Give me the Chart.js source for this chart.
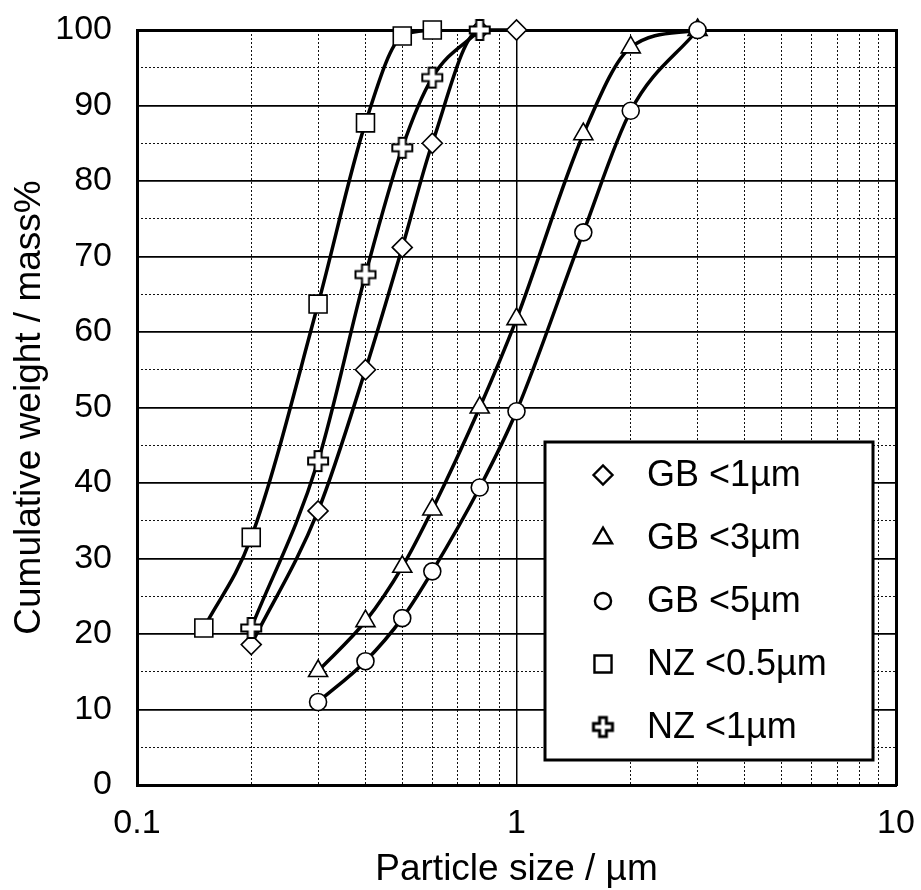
<!DOCTYPE html>
<html>
<head>
<meta charset="utf-8">
<script src="https://cdn.jsdelivr.net/npm/chart.js@4.4.1/dist/chart.umd.min.js"></script>
<style>
  body { margin: 0; background: #fff; }
  canvas { display: block; }
</style>
</head>
<body>
<canvas id="psd" width="921" height="890"></canvas>
<script>
// data (particle size in um, cumulative mass %)
const gb1Size  = [0.2, 0.3, 0.4, 0.5, 0.6, 0.8, 1.0];
const gb1Pct   = [18.6, 36.3, 55.0, 71.2, 85.0, 100, 100];

const gb3Size  = [0.3, 0.4, 0.5, 0.6, 0.8, 1.0, 1.5, 2.0, 3.0];
const gb3Pct   = [15.1, 21.7, 28.9, 36.5, 50.0, 61.7, 86.2, 97.7, 100];

const gb5Size  = [0.3, 0.4, 0.5, 0.6, 0.8, 1.0, 1.5, 2.0, 3.0];
const gb5Pct   = [11.0, 16.4, 22.1, 28.3, 39.4, 49.5, 73.2, 89.3, 100];

const nz05Size = [0.15, 0.2, 0.3, 0.4, 0.5, 0.6];
const nz05Pct  = [20.8, 32.8, 63.7, 87.7, 99.2, 100];

const nz1Size  = [0.2, 0.3, 0.4, 0.5, 0.6, 0.8];
const nz1Pct   = [20.8, 42.9, 67.6, 84.4, 93.7, 100];

const seriesLabels = ['GB <1\u00b5m', 'GB <3\u00b5m', 'GB <5\u00b5m', 'NZ <0.5\u00b5m', 'NZ <1\u00b5m'];

// axis ticks
const xGridValues = [0.1, 0.2, 0.3, 0.4, 0.5, 0.6, 0.7, 0.8, 0.9,
                     1, 2, 3, 4, 5, 6, 7, 8, 9, 10];
const xTickLabels = { 0.1: '0.1', 1: '1', 10: '10' };
const yMin = 0, yMax = 100, yStep = 10, yMinorStep = 5;

const FONT = "'Liberation Sans', Arial, Helvetica, sans-serif";

// outlined plus marker (not available as a built-in point style)
function plusMarker(half, arm, lw) {
    const c = document.createElement('canvas');
    const s = Math.ceil(half * 2 + lw * 2 + 2);
    c.width = s; c.height = s;
    const g = c.getContext('2d');
    const m = s / 2;
    g.beginPath();
    g.moveTo(m - arm, m - half);
    g.lineTo(m + arm, m - half);
    g.lineTo(m + arm, m - arm);
    g.lineTo(m + half, m - arm);
    g.lineTo(m + half, m + arm);
    g.lineTo(m + arm, m + arm);
    g.lineTo(m + arm, m + half);
    g.lineTo(m - arm, m + half);
    g.lineTo(m - arm, m + arm);
    g.lineTo(m - half, m + arm);
    g.lineTo(m - half, m - arm);
    g.lineTo(m - arm, m - arm);
    g.closePath();
    g.fillStyle = '#fff';
    g.fill();
    g.lineWidth = lw;
    g.strokeStyle = '#000';
    g.stroke();
    return c;
}
const plusImg = plusMarker(10, 3.5, 2);
const plusLegendImg = plusMarker(9.5, 3.4, 3);

function pts(xs, ys) {
    return xs.map((x, i) => ({ x: x, y: ys[i] }));
}

function series(label, xs, ys, style, radius, order) {
    return {
        label: label,
        data: pts(xs, ys),
        borderColor: '#000',
        borderWidth: 3.5,
        pointStyle: style,
        pointRadius: radius,
        pointHoverRadius: radius,
        pointBackgroundColor: '#fff',
        pointBorderColor: '#000',
        pointBorderWidth: 1.6,
        cubicInterpolationMode: 'monotone',
        fill: false,
        clip: false,
        order: order
    };
}

const datasets = [
    series(seriesLabels[0], gb1Size, gb1Pct, 'rectRot', 10, 3),
    series(seriesLabels[1], gb3Size, gb3Pct, 'triangle', 11, 4),
    series(seriesLabels[2], gb5Size, gb5Pct, 'circle', 8.5, 2),
    series(seriesLabels[3], nz05Size, nz05Pct, 'rect', 12.7, 1),
    series(seriesLabels[4], nz1Size, nz1Pct, plusImg, 10, 0)
];

// legend box drawn inside the plot, lower right
const boxLegend = {
    id: 'boxLegend',
    afterDraw(chart) {
        const ctx = chart.ctx;
        const a = chart.chartArea;
        const w = 328, h = 318;
        const left = a.right - 23 - w;
        const top = a.bottom - 25 - h;
        ctx.save();
        ctx.fillStyle = '#fff';
        ctx.fillRect(left, top, w, h);
        ctx.lineWidth = 3;
        ctx.strokeStyle = '#000';
        ctx.strokeRect(left, top, w, h);
        ctx.font = '36px ' + FONT;
        ctx.textBaseline = 'middle';
        ctx.textAlign = 'left';
        chart.data.datasets.forEach((ds, i) => {
            const cy = top + 33 + i * 63;
            const cx = left + 58;
            let style = ds.pointStyle;
            if (style === plusImg) style = plusLegendImg;
            ctx.fillStyle = '#fff';
            ctx.strokeStyle = '#000';
            ctx.lineWidth = 2.4;
            Chart.helpers.drawPoint(ctx, {
                pointStyle: style,
                radius: ds.pointRadius * 0.95,
                borderWidth: 2.4,
                rotation: 0
            }, cx, cy);
            ctx.fillStyle = '#000';
            ctx.fillText(ds.label, left + 102, cy + 1);
        });
        ctx.restore();
    }
};

Chart.defaults.color = '#000';
Chart.defaults.font.family = FONT;

function noPad(s) {
    s.paddingTop = 0;
    s.paddingBottom = 0;
    s.paddingLeft = 0;
    s.paddingRight = 0;
}

const chart = new Chart(document.getElementById('psd').getContext('2d'), {
    type: 'line',
    data: { datasets: datasets },
    options: {
        responsive: false,
        animation: false,
        layout: { padding: { top: 30, right: 25, left: 0, bottom: 0 } },
        plugins: {
            legend: { display: false },
            tooltip: { enabled: false }
        },
        scales: {
            x: {
                type: 'logarithmic',
                position: 'bottom',
                min: 0.1,
                max: 10,
                afterBuildTicks: s => { s.ticks = xGridValues.map(v => ({ value: v })); },
                afterFit: s => { s.height = 105; noPad(s); },
                ticks: {
                    autoSkip: false,
                    maxRotation: 0,
                    padding: 18,
                    font: { size: 34, family: FONT },
                    color: '#000',
                    callback: v => (xTickLabels[v] !== undefined ? xTickLabels[v] : '')
                },
                grid: {
                    drawTicks: false,
                    color: '#111',
                    lineWidth: 1
                },
                border: { display: true, color: '#000', width: 3, dash: [2, 2] },
                title: {
                    display: true,
                    text: 'Particle size / \u00b5m',
                    font: { size: 37, family: FONT, lineHeight: 1.1 },
                    color: '#000',
                    padding: { top: 0, bottom: 0 }
                }
            },
            x2: {
                type: 'logarithmic',
                position: 'top',
                min: 0.1,
                max: 10,
                afterBuildTicks: s => { s.ticks = [{ value: 1 }]; },
                afterFit: s => { s.height = 0; noPad(s); },
                ticks: { display: false },
                grid: { drawTicks: false, color: '#000', lineWidth: 1.5 },
                border: { display: true, color: '#000', width: 3 }
            },
            y: {
                type: 'linear',
                position: 'left',
                min: yMin,
                max: yMax,
                afterFit: s => { s.width = 137; noPad(s); },
                ticks: {
                    stepSize: yStep,
                    padding: 25,
                    font: { size: 34, family: FONT },
                    color: '#000'
                },
                grid: {
                    drawTicks: false,
                    color: '#000',
                    lineWidth: 1.8
                },
                border: { display: true, color: '#000', width: 3 },
                title: {
                    display: true,
                    text: 'Cumulative weight / mass%',
                    font: { size: 37, family: FONT },
                    color: '#000',
                    padding: { top: 8, bottom: 0 }
                }
            },
            y2: {
                type: 'linear',
                position: 'right',
                min: yMin,
                max: yMax,
                afterFit: s => { s.width = 0; noPad(s); },
                ticks: { display: false, stepSize: yMinorStep },
                grid: {
                    drawTicks: false,
                    lineWidth: 1,
                    color: c => (c.tick && c.tick.value % yStep === 0 ? 'rgba(0,0,0,0)' : '#111')
                },
                border: { display: true, color: '#000', width: 3, dash: [2, 2] }
            }
        }
    },
    plugins: [boxLegend]
});
</script>
</body>
</html>
